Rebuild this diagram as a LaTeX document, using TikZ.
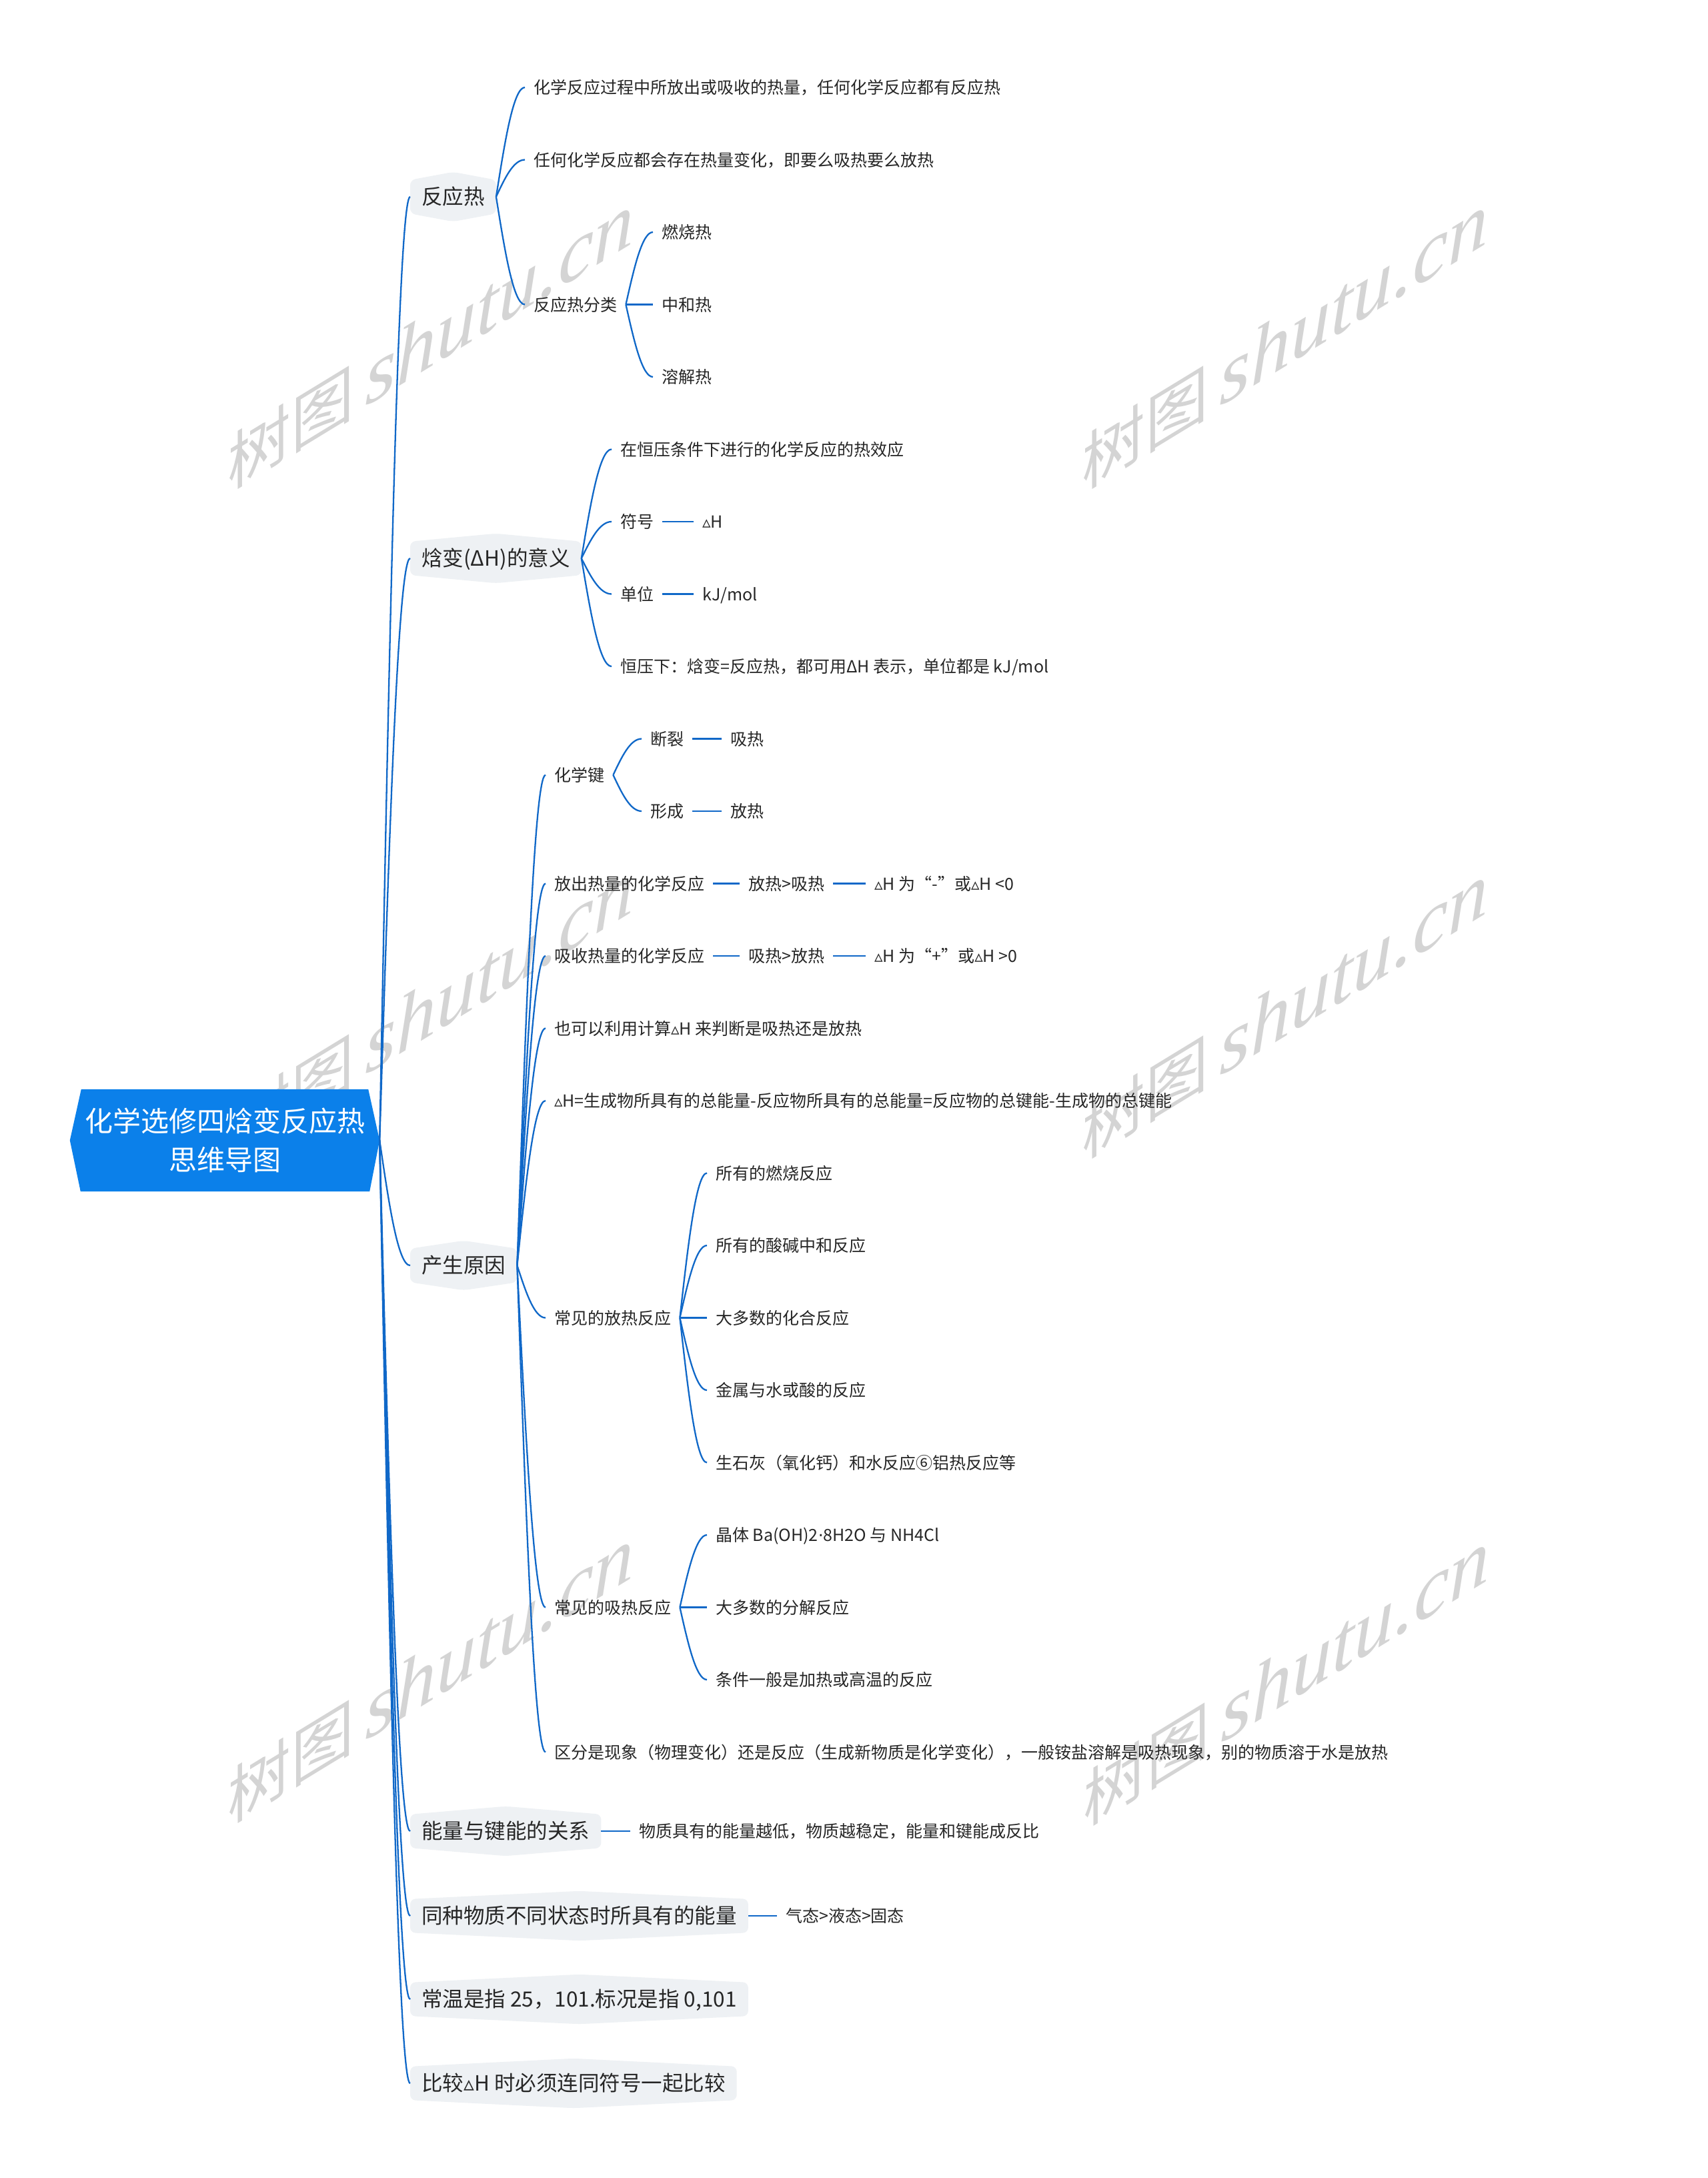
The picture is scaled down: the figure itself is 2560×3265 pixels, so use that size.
\documentclass[tikz,border=0pt]{standalone}
\usepackage{fontspec}
\setmainfont{Noto Sans CJK SC}
\newfontfamily\dvs{DejaVu Sans}
\newfontfamily\wmser{Liberation Serif}
\usetikzlibrary{calc,backgrounds}
\definecolor{lineblue}{HTML}{1068C8}
\definecolor{rootblue}{HTML}{0B80EA}
\definecolor{boxgray}{HTML}{EEF1F4}
\definecolor{txtc}{HTML}{262626}
\definecolor{wmc}{HTML}{D4D4D4}
\newcommand\tri{{\dvs ▵}}
\begin{document}
\begin{tikzpicture}[x=1pt,y=-1pt,
  rootn/.style={minimum width=464pt, minimum height=153pt, inner sep=0pt, align=center, text=white, font=\fontsize{42}{58}\selectfont},
  lone/.style={anchor=west, font=\fontsize{31.5}{36}\selectfont, text=txtc, inner xsep=17pt, inner ysep=0pt, minimum height=50pt, text height=25pt, text depth=1.2pt},
  ttwo/.style={anchor=west, font=\fontsize{25}{30}\selectfont, text=txtc, inner xsep=13pt, inner ysep=4pt, text height=20pt, text depth=1pt},
  conn/.style={draw=lineblue, line width=2.3pt},
  mm/.style={to path={let \p1=(\tikztostart), \p2=(\tikztotarget) in .. controls ({\x1+0.3*(\x2-\x1)},{\y1+0.5*(\y2-\y1)}) and ({\x1+0.6*(\x2-\x1)},\y2) .. (\tikztotarget) \tikztonodes}},
  wmk/.style={text=wmc, inner sep=0pt}
]
\useasboundingbox (0,0) rectangle (2560,3265);

% root
\node[rootn] (root) at (337,1709.5) {化学选修四焓变反应热\\思维导图};

% level 1
\node[lone] (A) at (615,295) {反应热};
\node[lone] (B) at (615,837) {焓变(ΔH)的意义};
\node[lone] (C) at (615,1897) {产生原因};
\node[lone] (D) at (615,2745) {能量与键能的关系};
\node[lone] (E) at (615,2872) {同种物质不同状态时所具有的能量};
\node[lone] (F) at (615,2997) {常温是指 25，101.标况是指 0,101};
\node[lone] (G) at (615,3123) {比较\tri H 时必须连同符号一起比较};

% 反应热
\node[ttwo] (A1) at (787,131) {化学反应过程中所放出或吸收的热量，任何化学反应都有反应热};
\node[ttwo] (A2) at (787,239.5) {任何化学反应都会存在热量变化，即要么吸热要么放热};
\node[ttwo] (A3) at (787,456.5) {反应热分类};
\node[ttwo] (A31) at (979,348) {燃烧热};
\node[ttwo] (A32) at (979,456.5) {中和热};
\node[ttwo] (A33) at (979,565) {溶解热};

% 焓变
\node[ttwo] (B1) at (917,673.5) {在恒压条件下进行的化学反应的热效应};
\node[ttwo] (B2) at (917,782) {符号};
\node[ttwo] (B21) at (1040,782) {\tri H};
\node[ttwo] (B3) at (917,890.5) {单位};
\node[ttwo] (B31) at (1040,890.5) {kJ/mol};
\node[ttwo] (B4) at (917,999) {恒压下：焓变=反应热，都可用ΔH 表示，单位都是 kJ/mol};

% 产生原因
\node[ttwo] (C1) at (818,1161.75) {化学键};
\node[ttwo] (C11) at (962,1107.5) {断裂};
\node[ttwo] (C111) at (1082,1107.5) {吸热};
\node[ttwo] (C12) at (962,1216) {形成};
\node[ttwo] (C121) at (1082,1216) {放热};
\node[ttwo] (C2) at (818,1324.5) {放出热量的化学反应};
\node[ttwo] (C21) at (1109,1324.5) {放热>吸热};
\node[ttwo] (C211) at (1298,1324.5) {\tri H 为“-”或\tri H <0};
\node[ttwo] (C3) at (818,1433) {吸收热量的化学反应};
\node[ttwo] (C31) at (1109,1433) {吸热>放热};
\node[ttwo] (C311) at (1298,1433) {\tri H 为“+”或\tri H >0};
\node[ttwo] (C4) at (818,1541.5) {也可以利用计算\tri H 来判断是吸热还是放热};
\node[ttwo] (C5) at (818,1650) {\tri H=生成物所具有的总能量-反应物所具有的总能量=反应物的总键能-生成物的总键能};
\node[ttwo] (C6) at (818,1975.5) {常见的放热反应};
\node[ttwo] (C61) at (1060,1758.5) {所有的燃烧反应};
\node[ttwo] (C62) at (1060,1867) {所有的酸碱中和反应};
\node[ttwo] (C63) at (1060,1975.5) {大多数的化合反应};
\node[ttwo] (C64) at (1060,2084) {金属与水或酸的反应};
\node[ttwo] (C65) at (1060,2192.5) {生石灰（氧化钙）和水反应⑥铝热反应等};
\node[ttwo] (C7) at (818,2409.5) {常见的吸热反应};
\node[ttwo] (C71) at (1060,2301) {晶体 Ba(OH)2{\dvs ·}8H2O 与 NH4Cl};
\node[ttwo] (C72) at (1060,2409.5) {大多数的分解反应};
\node[ttwo] (C73) at (1060,2518) {条件一般是加热或高温的反应};
\node[ttwo] (C8) at (818,2626.5) {区分是现象（物理变化）还是反应（生成新物质是化学变化），一般铵盐溶解是吸热现象，别的物质溶于水是放热};

% others
\node[ttwo] (D1) at (945,2745) {物质具有的能量越低，物质越稳定，能量和键能成反比};
\node[ttwo] (E1) at (1165,2872) {气态>液态>固态};

% connectors
\foreach \c in {A,B,C,D,E,F,G} \draw[conn] (root.east) to[mm] (\c.west);
\foreach \a/\b in {A/A1,A/A2,A/A3,A3/A31,A3/A32,A3/A33,
  B/B1,B/B2,B/B3,B/B4,B2/B21,B3/B31,
  C/C1,C/C2,C/C3,C/C4,C/C5,C/C6,C/C7,C/C8,
  C1/C11,C1/C12,C11/C111,C12/C121,C2/C21,C21/C211,C3/C31,C31/C311,
  C6/C61,C6/C62,C6/C63,C6/C64,C6/C65,C7/C71,C7/C72,C7/C73,
  D/D1,E/E1}
  \draw[conn] (\a.east) to[mm] (\b.west);

% background: page, watermarks and boxes
\begin{scope}[on background layer]
  \fill[white] (0,0) rectangle (2560,3265);
  \foreach \wx/\wy in {646/512,1927/512,646/1514,1927/1516,646/2512,1929/2516}{
    \begin{scope}[shift={(\wx,\wy)}, yslant=0.61]
      \node[wmk, transform shape] at (0,0) {{\fontsize{95}{95}\selectfont 树图}\hspace{16pt}{\wmser\itshape\fontsize{120}{120}\selectfont shutu.cn}};
    \end{scope}
  }
  \foreach \n in {A,B,C,D,E,F,G}
    \fill[boxgray, rounded corners=8pt] (\n.north west) -- ($(\n.north)+(0pt,12pt)$) -- (\n.north east) -- (\n.south east) -- ($(\n.south)+(0pt,-12pt)$) -- (\n.south west) -- cycle;
  \fill[rootblue] (root.west) -- ($(root.north west)+(17pt,0pt)$) -- ($(root.north east)+(-17pt,0pt)$) -- (root.east) -- ($(root.south east)+(-15pt,0pt)$) -- ($(root.south west)+(16pt,0pt)$) -- cycle;
\end{scope}
\end{tikzpicture}
\end{document}
